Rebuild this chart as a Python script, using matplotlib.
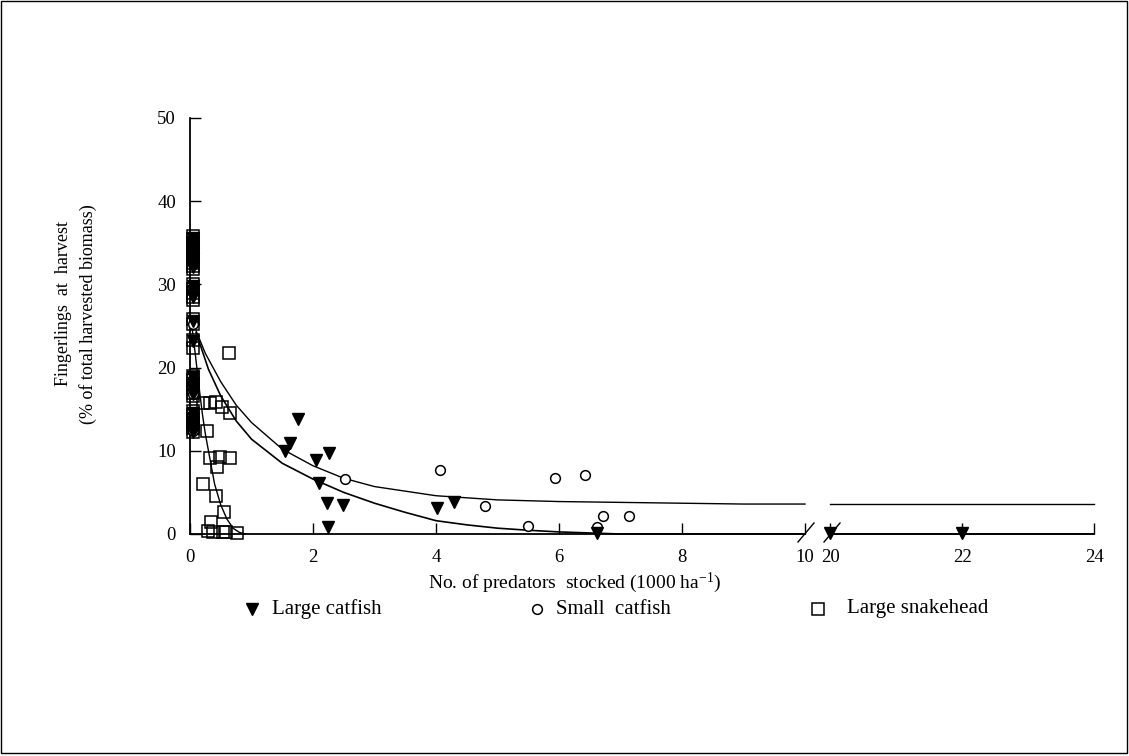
import numpy as np
import matplotlib.pyplot as plt
from matplotlib.lines import Line2D
from matplotlib.patches import Rectangle

plt.rcParams['font.family'] = ['Liberation Serif', 'DejaVu Serif']
plt.rcParams['mathtext.default'] = 'regular'

W, H = 1129, 756

# Large catfish (filled triangles), control ponds sit at x = 0
large_catfish_x = [0.05] * 22 + [1.76, 1.63, 1.54, 2.26, 2.05, 2.10, 2.23, 2.49, 2.24, 4.02, 4.29, 6.62, 20.0, 22.0]
large_catfish_y = [35.6, 35.1, 34.6, 34.1, 33.6, 33.1, 32.6, 32.1, 29.8, 29.2, 28.5, 25.6, 23.2, 18.9, 18.2, 17.5,
                   16.8, 14.6, 14.0, 13.4, 12.8, 12.3,
                   13.8, 10.9, 10.0, 9.7, 8.9, 6.1, 3.7, 3.5, 0.8, 3.1, 3.8, 0.1, 0.1, 0.1]

# Small catfish (open circles)
small_catfish_x = [0.05] * 9 + [2.52, 4.07, 4.80, 5.50, 5.93, 6.42, 6.62, 6.72, 7.14]
small_catfish_y = [35.0, 33.6, 32.4, 29.2, 25.2, 18.2, 16.8, 14.0, 12.4,
                   6.6, 7.7, 3.4, 1.0, 6.7, 7.1, 0.8, 2.2, 2.2]

# Large snakehead (open squares)
snakehead_x = [0.05] * 32 + [0.63, 0.21, 0.32, 0.42, 0.52, 0.65, 0.28, 0.21, 0.33, 0.49, 0.65,
                             0.44, 0.42, 0.55, 0.34, 0.29, 0.37, 0.54, 0.76, 0.58]
snakehead_y = [35.8, 35.4, 35.0, 34.6, 34.2, 33.8, 33.4, 33.0, 32.6, 32.2, 31.9,
               30.0, 29.5, 29.0, 28.5, 28.1, 25.8, 25.3, 23.3, 22.4,
               19.0, 18.5, 18.0, 17.5, 17.0, 16.6, 14.8, 14.3, 13.8, 13.3, 12.8, 12.3,
               21.8, 15.7, 15.7, 15.9, 15.3, 14.5, 12.4, 6.0, 9.1, 9.3, 9.1,
               8.0, 4.6, 2.6, 1.4, 0.4, 0.2, 0.3, 0.1, 0.2]

# fitted curves
upper_fit_x = [0.1, 0.25, 0.5, 0.75, 1.0, 1.5, 2.0, 2.5, 3.0, 4.0, 5.0, 6.0, 7.0, 8.0, 9.0, 10.0]
upper_fit_y = [24.4, 21.7, 18.3, 15.5, 13.4, 10.2, 8.2, 6.7, 5.7, 4.6, 4.1, 3.9, 3.8, 3.7, 3.6, 3.6]
lower_fit_x = [0.1, 0.3, 0.5, 0.75, 1.0, 1.5, 2.0, 2.5, 3.0, 3.5, 4.0, 4.5, 5.0, 5.5, 6.0, 6.6, 7.0, 10.0]
lower_fit_y = [24.2, 19.8, 16.6, 13.6, 11.4, 8.5, 6.6, 5.0, 3.7, 2.6, 1.6, 1.1, 0.7, 0.45, 0.25, 0.1, 0.0, 0.0]
snake_fit_x = [0.03, 0.08, 0.15, 0.2, 0.25, 0.3, 0.35, 0.4, 0.5, 0.6, 0.7, 0.8, 0.9]
snake_fit_y = [25.0, 22.0, 17.5, 14.5, 12.0, 10.0, 8.0, 6.0, 3.5, 1.8, 0.7, 0.2, 0.0]
upper_fit2_x = [20, 24]
upper_fit2_y = [3.6, 3.6]
lower_fit2_x = [20, 24]
lower_fit2_y = [0.0, 0.0]

y_ticks = [0, 10, 20, 30, 40, 50]
x_ticks1 = [0, 2, 4, 6, 8, 10]
x_ticks2 = [20, 22, 24]
legend_labels = ['Large catfish', 'Small  catfish', 'Large snakehead']


def fx(px):
    return px / W


def fy(py):
    return (H - py) / H


fig = plt.figure(figsize=(W / 100, H / 100), dpi=100)
fig.patches.append(Rectangle((fx(1), fy(753)), fx(1126), (752 / H), transform=fig.transFigure,
                             fill=False, edgecolor='black', lw=1.0))

ax1 = fig.add_axes([fx(190), fy(534), fx(805) - fx(190), fy(118) - fy(534)])
ax2 = fig.add_axes([fx(830), fy(534), fx(1094) - fx(830), fy(118) - fy(534)])

tri = dict(marker='v', ms=8, color='black', ls='none')
circ = dict(marker='o', ms=7, mfc='white', mec='black', mew=1.1, ls='none')
sq = dict(marker='s', ms=8, mfc='none', mec='black', mew=1.1, ls='none')

for ax, lo, hi in [(ax1, 0, 10), (ax2, 20, 24)]:
    sel = lambda xs, ys: ([x for x in xs if lo <= x <= hi], [y for x, y in zip(xs, ys) if lo <= x <= hi])
    ax.plot(*sel(snakehead_x, snakehead_y), clip_on=False, zorder=3, **sq)
    ax.plot(*sel(small_catfish_x, small_catfish_y), clip_on=False, zorder=3, **circ)
    ax.plot(*sel(large_catfish_x, large_catfish_y), clip_on=False, zorder=4, **tri)
    ax.set_xlim(lo, hi)
    ax.set_ylim(0, 50)
    ax.spines['top'].set_visible(False)
    ax.spines['right'].set_visible(False)
    ax.patch.set_alpha(0)
    ax.tick_params(direction='in', length=8, width=1, labelsize=13.5, pad=11)

ax1.plot(upper_fit_x, upper_fit_y, color='black', lw=1, clip_on=False)
ax1.plot(lower_fit_x, lower_fit_y, color='black', lw=1.2, clip_on=False)
ax1.plot(snake_fit_x, snake_fit_y, color='black', lw=1, clip_on=False)
ax2.plot(upper_fit2_x, upper_fit2_y, color='black', lw=1, clip_on=False)
ax2.plot(lower_fit2_x, lower_fit2_y, color='black', lw=1.2, clip_on=False)

ax1.set_xticks(x_ticks1)
ax1.set_yticks(y_ticks)
ax1.tick_params(axis='y', pad=10)
ax2.set_xticks(x_ticks2)
ax2.spines['left'].set_visible(False)
ax2.set_yticks([])
for ax in (ax1, ax2):
    ax.spines['bottom'].set_linewidth(1.3)
    ax.spines['left'].set_linewidth(1.3)

# break marks
for x0 in (798, 824):
    fig.lines.append(Line2D([fx(x0), fx(x0 + 16)], [fy(542), fy(523)], transform=fig.transFigure,
                            color='black', lw=1))

fig.text(fx(575), fy(583), 'No. of predators  stocked (1000 ha$^{-1}$)', ha='center', va='center', fontsize=14)
fig.text(fx(64), fy(303), 'Fingerlings  at  harvest', rotation=90, ha='center', va='center', fontsize=13)
fig.text(fx(88), fy(314), '(% of total harvested biomass)', rotation=90, ha='center', va='center', fontsize=13)

# legend row drawn by hand: key marker then label
key_styles = [tri, circ, sq]
key_px = [252, 537, 818]
text_px = [272, 556, 847]
for style, kx, tx, lab in zip(key_styles, key_px, text_px, legend_labels):
    fig.lines.append(Line2D([fx(kx)], [fy(609)], transform=fig.transFigure, **style))
    fig.text(fx(tx), fy(609), lab, ha='left', va='center', fontsize=15)

fig.savefig('out.png', dpi=100)
